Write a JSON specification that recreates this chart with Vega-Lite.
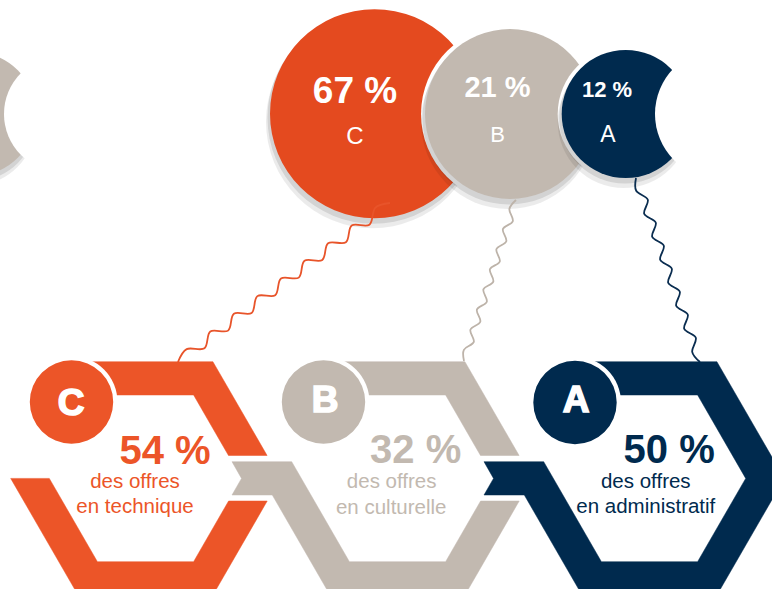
{
  "$schema": "https://vega.github.io/schema/vega-lite/v6.json",
  "width": 772,
  "height": 589,
  "autosize": {"type": "none"},
  "padding": 0,
  "background": "#ffffff",
  "config": {"view": {"stroke": null}},
  "datasets": {
    "top": [
      {"z": 1, "x": -28, "y": 122, "s": 16384, "c": "#000000", "o": 0.08},
      {"z": 2, "x": -27, "y": 118, "s": 16129, "c": "#000000", "o": 0.1},
      {"z": 3, "x": -26, "y": 114, "s": 15376, "c": "#c2b9b0", "o": 1},
      {"z": 4, "x": 62, "y": 114, "s": 13456, "c": "#ffffff", "o": 1},
      {"z": 5, "x": 372.5, "y": 121.7, "s": 45369, "c": "#000000", "o": 0.08},
      {"z": 6, "x": 373.5, "y": 117.7, "s": 44944, "c": "#000000", "o": 0.1},
      {"z": 7, "x": 374.5, "y": 113.7, "s": 43681, "c": "#e44a1f", "o": 1},
      {"z": 8, "x": 510, "y": 114, "s": 31684, "c": "#ffffff", "o": 1},
      {"z": 9, "x": 508, "y": 122, "s": 30276, "c": "#000000", "o": 0.08},
      {"z": 10, "x": 509, "y": 118, "s": 29929, "c": "#000000", "o": 0.1},
      {"z": 11, "x": 510, "y": 114, "s": 28900, "c": "#c2b9b0", "o": 1},
      {"z": 12, "x": 625.7, "y": 114, "s": 18496, "c": "#ffffff", "o": 1},
      {"z": 13, "x": 623.7, "y": 122, "s": 17424, "c": "#000000", "o": 0.08},
      {"z": 14, "x": 624.7, "y": 118, "s": 17161, "c": "#000000", "o": 0.1},
      {"z": 15, "x": 625.7, "y": 114, "s": 16384, "c": "#002a4e", "o": 1},
      {"z": 16, "x": 720.5, "y": 114, "s": 17161, "c": "#ffffff", "o": 1}
    ],
    "strings": [
      {"id": "o", "k": 0, "x": 390, "y": 203, "c": "#e8542a"},
      {"id": "o", "k": 1, "x": 375.2, "y": 207.8, "c": "#e8542a"},
      {"id": "o", "k": 2, "x": 369.4, "y": 224.7, "c": "#e8542a"},
      {"id": "o", "k": 3, "x": 351.7, "y": 225.5, "c": "#e8542a"},
      {"id": "o", "k": 4, "x": 345.9, "y": 242.3, "c": "#e8542a"},
      {"id": "o", "k": 5, "x": 328.1, "y": 243.2, "c": "#e8542a"},
      {"id": "o", "k": 6, "x": 322.3, "y": 260.0, "c": "#e8542a"},
      {"id": "o", "k": 7, "x": 304.5, "y": 260.8, "c": "#e8542a"},
      {"id": "o", "k": 8, "x": 298.8, "y": 277.6, "c": "#e8542a"},
      {"id": "o", "k": 9, "x": 281.0, "y": 278.5, "c": "#e8542a"},
      {"id": "o", "k": 10, "x": 275.2, "y": 295.3, "c": "#e8542a"},
      {"id": "o", "k": 11, "x": 257.4, "y": 296.1, "c": "#e8542a"},
      {"id": "o", "k": 12, "x": 251.6, "y": 313.0, "c": "#e8542a"},
      {"id": "o", "k": 13, "x": 233.9, "y": 313.8, "c": "#e8542a"},
      {"id": "o", "k": 14, "x": 228.1, "y": 330.6, "c": "#e8542a"},
      {"id": "o", "k": 15, "x": 210.3, "y": 331.5, "c": "#e8542a"},
      {"id": "o", "k": 16, "x": 204.5, "y": 348.3, "c": "#e8542a"},
      {"id": "o", "k": 17, "x": 186.7, "y": 349.1, "c": "#e8542a"},
      {"id": "o", "k": 18, "x": 178, "y": 362, "c": "#e8542a"},
      {"id": "b", "k": 0, "x": 516, "y": 200, "c": "#bdb3a9"},
      {"id": "b", "k": 1, "x": 509.4, "y": 209.0, "c": "#bdb3a9"},
      {"id": "b", "k": 2, "x": 512.8, "y": 221.2, "c": "#bdb3a9"},
      {"id": "b", "k": 3, "x": 502.9, "y": 229.1, "c": "#bdb3a9"},
      {"id": "b", "k": 4, "x": 506.3, "y": 241.3, "c": "#bdb3a9"},
      {"id": "b", "k": 5, "x": 496.4, "y": 249.2, "c": "#bdb3a9"},
      {"id": "b", "k": 6, "x": 499.8, "y": 261.5, "c": "#bdb3a9"},
      {"id": "b", "k": 7, "x": 489.9, "y": 269.3, "c": "#bdb3a9"},
      {"id": "b", "k": 8, "x": 493.3, "y": 281.6, "c": "#bdb3a9"},
      {"id": "b", "k": 9, "x": 483.4, "y": 289.4, "c": "#bdb3a9"},
      {"id": "b", "k": 10, "x": 486.8, "y": 301.7, "c": "#bdb3a9"},
      {"id": "b", "k": 11, "x": 476.9, "y": 309.6, "c": "#bdb3a9"},
      {"id": "b", "k": 12, "x": 480.3, "y": 321.8, "c": "#bdb3a9"},
      {"id": "b", "k": 13, "x": 470.4, "y": 329.7, "c": "#bdb3a9"},
      {"id": "b", "k": 14, "x": 473.8, "y": 341.9, "c": "#bdb3a9"},
      {"id": "b", "k": 15, "x": 463.9, "y": 349.8, "c": "#bdb3a9"},
      {"id": "b", "k": 16, "x": 464, "y": 361, "c": "#bdb3a9"},
      {"id": "n", "k": 0, "x": 636, "y": 178, "c": "#0a2d50"},
      {"id": "n", "k": 1, "x": 636.2, "y": 190.8, "c": "#0a2d50"},
      {"id": "n", "k": 2, "x": 647.8, "y": 199.7, "c": "#0a2d50"},
      {"id": "n", "k": 3, "x": 644.2, "y": 213.8, "c": "#0a2d50"},
      {"id": "n", "k": 4, "x": 655.8, "y": 222.7, "c": "#0a2d50"},
      {"id": "n", "k": 5, "x": 652.2, "y": 236.8, "c": "#0a2d50"},
      {"id": "n", "k": 6, "x": 663.8, "y": 245.7, "c": "#0a2d50"},
      {"id": "n", "k": 7, "x": 660.2, "y": 259.8, "c": "#0a2d50"},
      {"id": "n", "k": 8, "x": 671.8, "y": 268.7, "c": "#0a2d50"},
      {"id": "n", "k": 9, "x": 668.2, "y": 282.8, "c": "#0a2d50"},
      {"id": "n", "k": 10, "x": 679.8, "y": 291.7, "c": "#0a2d50"},
      {"id": "n", "k": 11, "x": 676.2, "y": 305.8, "c": "#0a2d50"},
      {"id": "n", "k": 12, "x": 687.8, "y": 314.7, "c": "#0a2d50"},
      {"id": "n", "k": 13, "x": 684.2, "y": 328.8, "c": "#0a2d50"},
      {"id": "n", "k": 14, "x": 695.8, "y": 337.7, "c": "#0a2d50"},
      {"id": "n", "k": 15, "x": 692.2, "y": 351.8, "c": "#0a2d50"},
      {"id": "n", "k": 16, "x": 700, "y": 362, "c": "#0a2d50"}
    ],
    "polys": [
      {"id": "oU", "i": 0, "x": 78.1, "y": 361.7, "c": "#ec5528"},
      {"id": "oU", "i": 1, "x": 212.9, "y": 361.7, "c": "#ec5528"},
      {"id": "oU", "i": 2, "x": 267.1, "y": 455.5, "c": "#ec5528"},
      {"id": "oU", "i": 3, "x": 228.5, "y": 455.5, "c": "#ec5528"},
      {"id": "oU", "i": 4, "x": 193.6, "y": 395, "c": "#ec5528"},
      {"id": "oU", "i": 5, "x": 97.4, "y": 395, "c": "#ec5528"},
      {"id": "oL", "i": 0, "x": 10.7, "y": 478.4, "c": "#ec5528"},
      {"id": "oL", "i": 1, "x": 49.3, "y": 478.4, "c": "#ec5528"},
      {"id": "oL", "i": 2, "x": 97.4, "y": 561.7, "c": "#ec5528"},
      {"id": "oL", "i": 3, "x": 193.6, "y": 561.7, "c": "#ec5528"},
      {"id": "oL", "i": 4, "x": 228.6, "y": 501, "c": "#ec5528"},
      {"id": "oL", "i": 5, "x": 267.2, "y": 501, "c": "#ec5528"},
      {"id": "oL", "i": 6, "x": 212.9, "y": 595.1, "c": "#ec5528"},
      {"id": "oL", "i": 7, "x": 78.1, "y": 595.1, "c": "#ec5528"},
      {"id": "bU", "i": 0, "x": 330.1, "y": 361.7, "c": "#c2b9b0"},
      {"id": "bU", "i": 1, "x": 464.9, "y": 361.7, "c": "#c2b9b0"},
      {"id": "bU", "i": 2, "x": 519.1, "y": 455.5, "c": "#c2b9b0"},
      {"id": "bU", "i": 3, "x": 480.5, "y": 455.5, "c": "#c2b9b0"},
      {"id": "bU", "i": 4, "x": 445.6, "y": 395, "c": "#c2b9b0"},
      {"id": "bU", "i": 5, "x": 349.4, "y": 395, "c": "#c2b9b0"},
      {"id": "bL", "i": 0, "x": 232, "y": 461.7, "c": "#c2b9b0"},
      {"id": "bL", "i": 1, "x": 291.7, "y": 461.7, "c": "#c2b9b0"},
      {"id": "bL", "i": 2, "x": 349.4, "y": 561.7, "c": "#c2b9b0"},
      {"id": "bL", "i": 3, "x": 445.6, "y": 561.7, "c": "#c2b9b0"},
      {"id": "bL", "i": 4, "x": 480.6, "y": 501, "c": "#c2b9b0"},
      {"id": "bL", "i": 5, "x": 519.2, "y": 501, "c": "#c2b9b0"},
      {"id": "bL", "i": 6, "x": 464.9, "y": 595.1, "c": "#c2b9b0"},
      {"id": "bL", "i": 7, "x": 330.1, "y": 595.1, "c": "#c2b9b0"},
      {"id": "bL", "i": 8, "x": 272.3, "y": 495, "c": "#c2b9b0"},
      {"id": "bL", "i": 9, "x": 232, "y": 495, "c": "#c2b9b0"},
      {"id": "bL", "i": 10, "x": 241.5, "y": 478.4, "c": "#c2b9b0"},
      {"id": "nA", "i": 0, "x": 484, "y": 461.7, "c": "#002a4e"},
      {"id": "nA", "i": 1, "x": 543.7, "y": 461.7, "c": "#002a4e"},
      {"id": "nA", "i": 2, "x": 601.4, "y": 561.7, "c": "#002a4e"},
      {"id": "nA", "i": 3, "x": 697.6, "y": 561.7, "c": "#002a4e"},
      {"id": "nA", "i": 4, "x": 745.7, "y": 478.4, "c": "#002a4e"},
      {"id": "nA", "i": 5, "x": 697.6, "y": 395, "c": "#002a4e"},
      {"id": "nA", "i": 6, "x": 601.4, "y": 395, "c": "#002a4e"},
      {"id": "nA", "i": 7, "x": 582.1, "y": 361.7, "c": "#002a4e"},
      {"id": "nA", "i": 8, "x": 716.9, "y": 361.7, "c": "#002a4e"},
      {"id": "nA", "i": 9, "x": 784.3, "y": 478.4, "c": "#002a4e"},
      {"id": "nA", "i": 10, "x": 716.9, "y": 595.1, "c": "#002a4e"},
      {"id": "nA", "i": 11, "x": 582.1, "y": 595.1, "c": "#002a4e"},
      {"id": "nA", "i": 12, "x": 524.3, "y": 495, "c": "#002a4e"},
      {"id": "nA", "i": 13, "x": 484, "y": 495, "c": "#002a4e"},
      {"id": "nA", "i": 14, "x": 493.5, "y": 478.4, "c": "#002a4e"}
    ],
    "badges": [
      {"z": 1, "x": 71.5, "y": 402, "s": 8464, "c": "#ffffff"},
      {"z": 2, "x": 323.5, "y": 402, "s": 8464, "c": "#ffffff"},
      {"z": 3, "x": 575, "y": 402.5, "s": 8464, "c": "#ffffff"},
      {"z": 4, "x": 71.5, "y": 402, "s": 6956, "c": "#ec5528"},
      {"z": 5, "x": 323.5, "y": 402, "s": 6956, "c": "#c2b9b0"},
      {"z": 6, "x": 575, "y": 402.5, "s": 6956, "c": "#002a4e"}
    ],
    "letters": [
      {"t": "C", "x": 71, "y": 415, "s": 37, "c": "#ffffff"},
      {"t": "B", "x": 325, "y": 412, "s": 37, "c": "#ffffff"},
      {"t": "A", "x": 576, "y": 412, "s": 37, "c": "#ffffff"}
    ],
    "bold": [
      {"t": "67 %", "x": 355, "y": 102.7, "s": 37, "c": "#ffffff"},
      {"t": "21 %", "x": 497.5, "y": 97.3, "s": 29, "c": "#ffffff"},
      {"t": "12 %", "x": 607, "y": 97.3, "s": 22, "c": "#ffffff"},
      {"t": "54 %", "x": 165, "y": 464.3, "s": 40, "c": "#ec5528"},
      {"t": "32 %", "x": 415.7, "y": 463.3, "s": 40, "c": "#c2b9b0"},
      {"t": "50 %", "x": 669.2, "y": 463.3, "s": 40, "c": "#002a4e"}
    ],
    "normal": [
      {"t": "C", "x": 355, "y": 144, "s": 24, "c": "#ffffff"},
      {"t": "B", "x": 497.7, "y": 141.7, "s": 22, "c": "#ffffff"},
      {"t": "A", "x": 608, "y": 141.7, "s": 23, "c": "#ffffff"},
      {"t": "des offres", "x": 135, "y": 488.3, "s": 20.5, "c": "#ec5528"},
      {"t": "en technique", "x": 135, "y": 513.3, "s": 20.5, "c": "#ec5528"},
      {"t": "des offres", "x": 391.7, "y": 488.3, "s": 20.5, "c": "#c2b9b0"},
      {"t": "en culturelle", "x": 391.2, "y": 514, "s": 20.5, "c": "#c2b9b0"},
      {"t": "des offres", "x": 645.8, "y": 488.3, "s": 20.5, "c": "#002a4e"},
      {"t": "en administratif", "x": 645.8, "y": 513.3, "s": 20.5, "c": "#002a4e"}
    ]
  },
  "encoding": {
    "x": {"field": "x", "type": "quantitative", "axis": null, "scale": {"domain": [0, 772], "nice": false, "zero": false}},
    "y": {"field": "y", "type": "quantitative", "axis": null, "scale": {"domain": [0, 589], "nice": false, "zero": false, "reverse": true}}
  },
  "layer": [
    {
      "data": {"name": "top"},
      "mark": {"type": "point", "shape": "circle", "filled": true, "strokeWidth": 0},
      "encoding": {
        "size": {"field": "s", "type": "quantitative", "scale": null},
        "fill": {"field": "c", "type": "nominal", "scale": null},
        "opacity": {"field": "o", "type": "quantitative", "scale": null},
        "order": {"field": "z", "type": "quantitative"}
      }
    },
    {
      "data": {"name": "strings"},
      "mark": {"type": "line", "interpolate": "cardinal", "strokeWidth": 1.8},
      "encoding": {
        "detail": {"field": "id", "type": "nominal"},
        "order": {"field": "k", "type": "quantitative"},
        "stroke": {"field": "c", "type": "nominal", "scale": null}
      }
    },
    {
      "data": {"name": "polys"},
      "mark": {"type": "line", "interpolate": "linear-closed", "strokeWidth": 0.5},
      "encoding": {
        "detail": {"field": "id", "type": "nominal"},
        "order": {"field": "i", "type": "quantitative"},
        "fill": {"field": "c", "type": "nominal", "scale": null},
        "stroke": {"field": "c", "type": "nominal", "scale": null}
      }
    },
    {
      "data": {"name": "badges"},
      "mark": {"type": "point", "shape": "circle", "filled": true, "strokeWidth": 0, "opacity": 1},
      "encoding": {
        "size": {"field": "s", "type": "quantitative", "scale": null},
        "fill": {"field": "c", "type": "nominal", "scale": null},
        "order": {"field": "z", "type": "quantitative"}
      }
    },
    {
      "data": {"name": "letters"},
      "mark": {"type": "text", "font": "Liberation Sans", "fontWeight": "bold", "align": "center", "baseline": "alphabetic", "stroke": "#ffffff", "strokeWidth": 1.6},
      "encoding": {
        "text": {"field": "t", "type": "nominal"},
        "size": {"field": "s", "type": "quantitative", "scale": null},
        "color": {"field": "c", "type": "nominal", "scale": null}
      }
    },
    {
      "data": {"name": "bold"},
      "mark": {"type": "text", "font": "Liberation Sans", "fontWeight": "bold", "align": "center", "baseline": "alphabetic"},
      "encoding": {
        "text": {"field": "t", "type": "nominal"},
        "size": {"field": "s", "type": "quantitative", "scale": null},
        "color": {"field": "c", "type": "nominal", "scale": null}
      }
    },
    {
      "data": {"name": "normal"},
      "mark": {"type": "text", "font": "Liberation Sans", "align": "center", "baseline": "alphabetic"},
      "encoding": {
        "text": {"field": "t", "type": "nominal"},
        "size": {"field": "s", "type": "quantitative", "scale": null},
        "color": {"field": "c", "type": "nominal", "scale": null}
      }
    }
  ]
}
